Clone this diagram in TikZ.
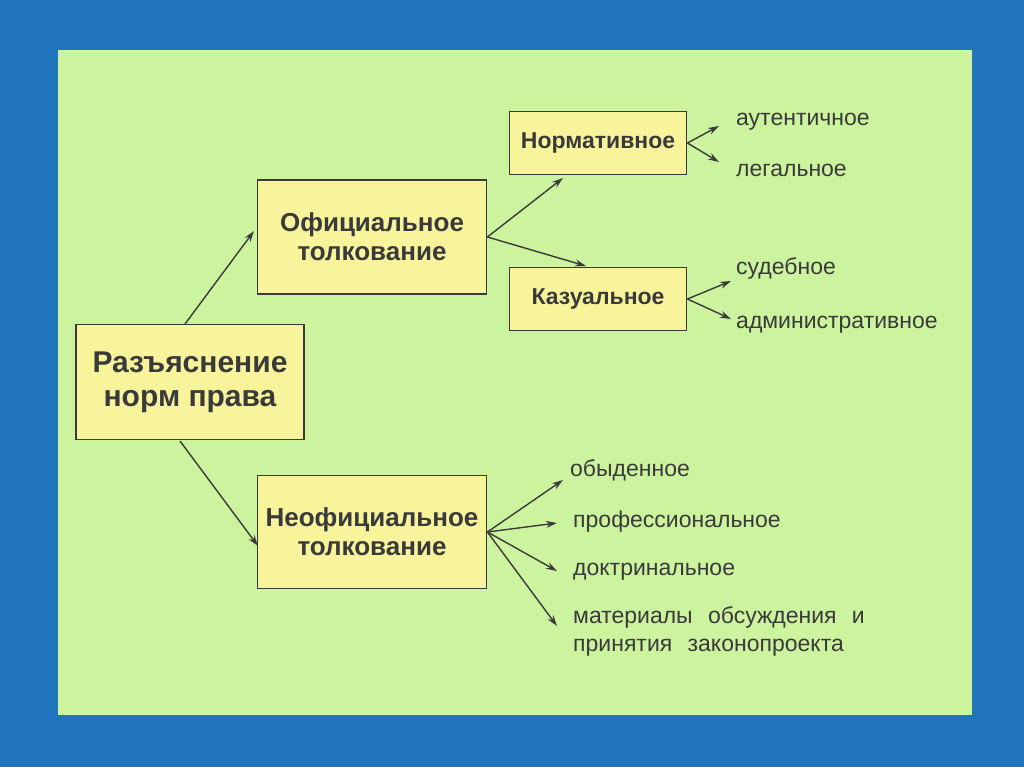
\documentclass[tikz,border=0pt]{standalone}
\usepackage{fontspec}
\setmainfont{Liberation Sans}
\usetikzlibrary{arrows.meta}
\definecolor{bgblue}{HTML}{1F74BC}
\definecolor{panel}{HTML}{CCF39E}
\definecolor{boxfill}{HTML}{F8F49C}
\definecolor{ink}{HTML}{3A3A3A}
\tikzset{
	mainbox/.style={draw=ink, line width=1.8pt, fill=boxfill, text=ink, font=\bfseries\fontsize{26}{29}\selectfont, align=center, inner sep=0pt},
	leaf/.style={text=ink, font=\fontsize{23}{28}\selectfont, anchor=west, align=left, inner sep=0pt},
	arr/.style={draw=ink, line width=1.4pt, -{Stealth[length=11pt,width=7pt]}}
}
\begin{document}
\begin{tikzpicture}[x=1pt,y=-1pt]
	\fill[bgblue] (0,0) rectangle (1024,767);
	\fill[panel] (58,50) rectangle (972,715);
	\useasboundingbox (0,0) rectangle (1024,767);

	%% boxes
	\node[mainbox, minimum width=228pt, minimum height=115pt, font=\bfseries\fontsize{30}{34}\selectfont] (root) at (190,382) {Разъяснение\\норм права};
	\node[mainbox, minimum width=229pt, minimum height=114pt] (ofic) at (372,237) {Официальное\\толкование};
	\node[mainbox, minimum width=229pt, minimum height=113pt] (neof) at (372,532) {Неофициальное\\толкование};
	\node[mainbox, minimum width=177pt, minimum height=63pt, font=\bfseries\fontsize{23}{26}\selectfont] (norm) at (598,143) {Нормативное};
	\node[mainbox, minimum width=177pt, minimum height=63pt, font=\bfseries\fontsize{23}{26}\selectfont] (kaz) at (598,299) {Казуальное};

	%% leaves
	\node[leaf] (aut) at (736,122) {аутентичное};
	\node[leaf] (leg) at (736,170) {легальное};
	\node[leaf] (sud) at (736,268) {судебное};
	\node[leaf] (adm) at (736,325) {административное};
	\node[leaf] (obyd) at (570,470) {обыденное};
	\node[leaf] (prof) at (573,522) {профессиональное};
	\node[leaf] (dokt) at (573,572) {доктринальное};
	\node[leaf, text width=340pt] (mat) at (573,631) {материалы\ \ обсуждения\ \ и\\принятия\ \ законопроекта};

	%% arrows
	\coordinate (rt) at (185,324);
	\coordinate (rb) at (180,441);
	\draw[arr] (rt) -- (254,231);
	\draw[arr] (rb) -- (258,546);
	\coordinate (of) at (ofic.east);
	\draw[arr] (of) -- (563,178);
	\draw[arr] (of) -- (586,266);
	\coordinate (nr) at (norm.east);
	\draw[arr] (nr) -- (719,126);
	\draw[arr] (nr) -- (719,162);
	\coordinate (kr) at (kaz.east);
	\draw[arr] (kr) -- (731,281);
	\draw[arr] (kr) -- (731,319);
	\coordinate (nf) at (neof.east);
	\draw[arr] (nf) -- (563,480);
	\draw[arr] (nf) -- (557,523);
	\draw[arr] (nf) -- (557,571);
	\draw[arr] (nf) -- (557,626);
\end{tikzpicture}
\end{document}
